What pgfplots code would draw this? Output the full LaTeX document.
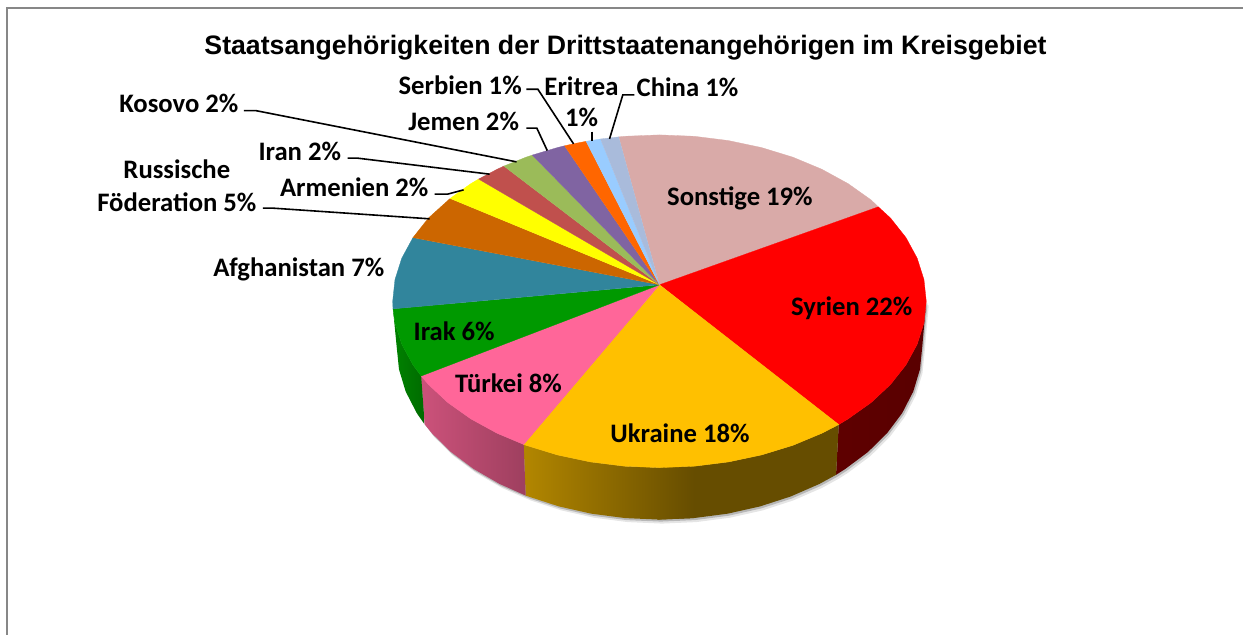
\documentclass[border=0pt]{standalone}
\usepackage{fontspec}
\usepackage{pgfplots}
\pgfplotsset{compat=1.18}
\setmainfont{Carlito}
\newfontfamily\titlefont{Liberation Sans}

% slice colours, top faces
\definecolor{cSonst}{HTML}{D9AAA8}
\definecolor{cSyr}{HTML}{FF0000}
\definecolor{cUkr}{HTML}{FFC000}
\definecolor{cTur}{HTML}{FF6699}
\definecolor{cIrak}{HTML}{009900}
\definecolor{cAfg}{HTML}{31859C}
\definecolor{cRus}{HTML}{CC6600}
\definecolor{cArm}{HTML}{FFFF00}
\definecolor{cIran}{HTML}{C0504D}
\definecolor{cKos}{HTML}{9BBB59}
\definecolor{cJem}{HTML}{8064A2}
\definecolor{cSer}{HTML}{FF6600}
\definecolor{cEri}{HTML}{99CCFF}
\definecolor{cChi}{HTML}{A9BBDB}

\pgfplotsset{
  slice/.style={draw=#1, fill=#1, line width=0.3bp, mark=none},
  leader/.style={draw=black, line width=1.6bp, mark=none},
}
\newcommand{\lab}[3]{\node[anchor=base, inner sep=0pt, font=\fontsize{26.8}{30}\selectfont\bfseries] at (axis cs:#1,#2) {#3};}

\pgfplotstableread{
x y
927 301.5
923 347
920.7 369.6
914 391.8
903 413.2
887.8 433.5
868.7 452.3
846 469.3
836.7 475.2
820.1 484.3
791.5 496.8
760.7 506.8
728.1 514.1
694.3 518.5
660 520
625.7 518.5
591.9 514.1
559.3 506.8
528.5 496.8
499.9 484.3
474 469.3
451.3 452.3
432.2 433.5
417 413.2
406 391.8
399.3 369.6
397 347
393 301.5
}\shadowedge

\begin{document}
\begin{tikzpicture}
\begin{axis}[
  scale only axis, width=1244bp, height=635bp,
  xmin=0, xmax=1244, ymin=0, ymax=635,
  y dir=reverse, hide axis, clip=false,
]
% keep the whole axis rectangle in the page
\path (axis cs:0,0) (axis cs:1244,635);

% soft shadow below the pie
\addplot[draw=none, fill=black, fill opacity=0.10, mark=none, xshift=2.5bp, yshift=-4bp] table {\shadowedge};
\addplot[draw=none, fill=black, fill opacity=0.20, mark=none, xshift=1.2bp, yshift=-2bp] table {\shadowedge};

% side walls
\addplot[draw=none, mark=none, shade, left color=red!37!black, right color=red!35!black] coordinates {
 (927,301.5) (924.7,323.2) (917.9,344.6) (906.7,365.2) (891.2,384.8) (871.8,402.9) (848.8,419.2) (839.4,424.9)
 (836.7,475.2) (846,469.3) (868.7,452.3) (887.8,433.5) (903,413.2) (914,391.8) (920.7,369.6) (923,347)};
\addplot[draw=none, mark=none, fill=cUkr!40!black] coordinates {
 (658,468) (694.8,466.6) (729.1,462.3) (762.2,455.3) (793.5,445.7) (822.5,433.6) (839.4,424.9)
 (836.7,475.2) (820.1,484.3) (791.5,496.8) (760.7,506.8) (728.1,514.1) (694.3,518.5) (658,520)};
\addplot[draw=none, mark=none, shade, left color=cUkr!70!black, right color=cUkr!40!black] coordinates {
 (524.1,444.8) (526.5,445.7) (557.8,455.3) (590.9,462.3) (625.2,466.6) (660,468) (694.8,466.6)
 (694.3,518.5) (660,520) (625.7,518.5) (591.9,514.1) (559.3,506.8) (528.5,496.8) (526.1,496)};
\addplot[draw=none, mark=none, shade, left color=cTur!80!black, right color=cTur!62!black] coordinates {
 (421.5,376.3) (428.8,384.8) (448.2,402.9) (471.2,419.2) (497.5,433.6) (524.1,444.8)
 (526.1,496) (499.9,484.3) (474,469.3) (451.3,452.3) (432.2,433.5) (425,424.7)};
\addplot[draw=none, mark=none, shade, left color=cIrak!85!black, right color=cIrak!70!black] coordinates {
 (393.3,309.1) (395.3,323.2) (402.1,344.6) (413.3,365.2) (421.5,376.3)
 (425,424.7) (417,413.2) (406,391.8) (399.3,369.6) (397,347)};

% top faces, clockwise from the hub
\addplot[slice=cSonst] coordinates {(660,285) (619.3,137) (625.2,136.4) (660,135) (694.8,136.4) (729.1,140.7) (762.2,147.7) (793.5,157.3) (822.5,169.4) (848.8,183.8) (871.8,200.1) (879,207)};
\addplot[slice=cSyr] coordinates {(660,285) (879,207) (891.2,218.2) (906.7,237.8) (917.9,258.4) (924.7,279.8) (927,301.5) (924.7,323.2) (917.9,344.6) (906.7,365.2) (891.2,384.8) (871.8,402.9) (848.8,419.2) (839.4,424.9)};
\addplot[slice=cUkr] coordinates {(660,285) (839.4,424.9) (822.5,433.6) (793.5,445.7) (762.2,455.3) (729.1,462.3) (694.8,466.6) (660,468) (625.2,466.6) (590.9,462.3) (557.8,455.3) (526.5,445.7) (524.1,444.8)};
\addplot[slice=cTur] coordinates {(660,285) (524.1,444.8) (497.5,433.6) (471.2,419.2) (448.2,402.9) (428.8,384.8) (421.5,376.3)};
\addplot[slice=cIrak] coordinates {(660,285) (421.5,376.3) (413.3,365.2) (402.1,344.6) (395.3,323.2) (393.3,309.1)};
\addplot[slice=cAfg] coordinates {(660,285) (393.3,309.1) (393,301.5) (395.3,279.8) (402.1,258.4) (413.3,237.8)};
\addplot[slice=cRus] coordinates {(660,285) (413.3,237.8) (428.8,218.2) (450.5,198.6)};
\addplot[slice=cArm] coordinates {(660,285) (450.5,198.6) (471.2,183.8) (479,179.2)};
\addplot[slice=cIran] coordinates {(660,285) (479,179.2) (497.5,169.4) (504.3,166.2)};
\addplot[slice=cKos] coordinates {(660,285) (504.3,166.2) (526.5,157.3) (532.7,155.2)};
\addplot[slice=cJem] coordinates {(660,285) (532.7,155.2) (557.8,147.7) (565,145.9)};
\addplot[slice=cSer] coordinates {(660,285) (565,145.9) (576,143.5) (586.6,141.4)};
\addplot[slice=cEri] coordinates {(660,285) (586.6,141.4) (601,139.1)};
\addplot[slice=cChi] coordinates {(660,285) (601,139.1) (619.3,137)};

% frame, open at the right and bottom edge
\addplot[draw=black!47, line width=2bp, mark=none] coordinates {(7,635) (7,8) (1244,8)};

% leader lines
\addplot[leader] coordinates {(244,110.7) (256,110.7) (517,162)};
\addplot[leader] coordinates {(348,158.3) (358,158.3) (490,174.3)};
\addplot[leader] coordinates {(435,194.3) (448,194.3) (464,190)};
\addplot[leader] coordinates {(263,208.3) (273,208.3) (430,219)};
\addplot[leader] coordinates {(526.7,128.3) (537.3,128.3) (547.7,150.7)};
\addplot[leader] coordinates {(526.7,89.3) (538.3,89.3) (574,144)};
\addplot[leader] coordinates {(592.7,131.7) (592.7,141)};
\addplot[leader] coordinates {(635,95) (623.3,95) (610,139)};

% title and labels
\node[anchor=base, inner sep=0pt, font=\titlefont\fontsize{26.8}{30}\selectfont\bfseries] at (axis cs:626,54.5) {Staatsangehörigkeiten der Drittstaatenangehörigen im Kreisgebiet};
\lab{179}{113}{Kosovo 2\%}
\lab{460.5}{95}{Serbien 1\%}
\lab{582}{96}{Eritrea}
\lab{582}{127}{1\%}
\lab{688}{97}{China 1\%}
\lab{464}{131}{Jemen 2\%}
\lab{300}{161}{Iran 2\%}
\lab{354.5}{197}{Armenien 2\%}
\lab{177}{179}{Russische}
\lab{177}{212}{Föderation 5\%}
\lab{299}{277}{Afghanistan 7\%}
\lab{740.5}{206}{Sonstige 19\%}
\lab{852.5}{316}{Syrien 22\%}
\lab{454.5}{341}{Irak 6\%}
\lab{509}{393}{Türkei 8\%}
\lab{680.5}{443}{Ukraine 18\%}
\end{axis}
\end{tikzpicture}
\end{document}
